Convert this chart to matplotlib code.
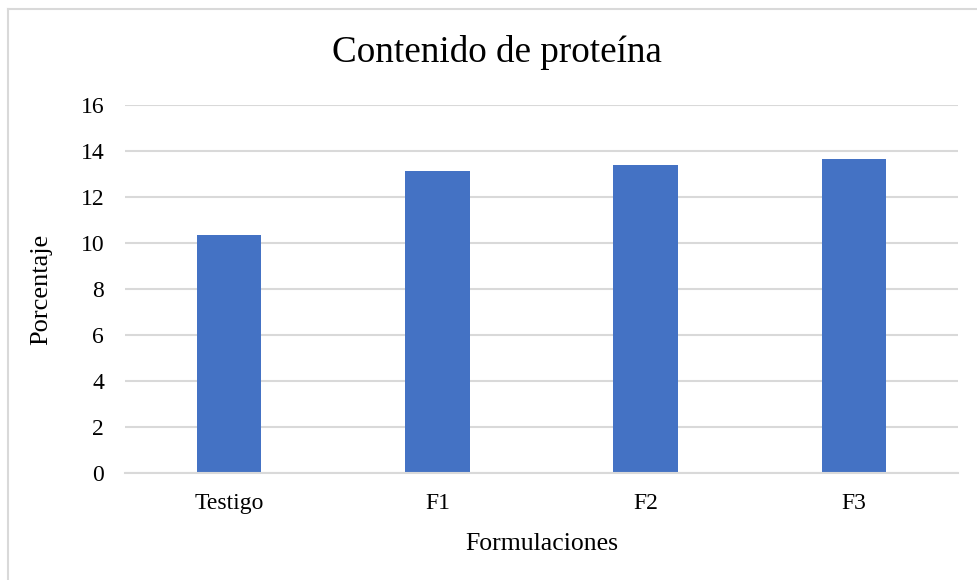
import matplotlib
matplotlib.use("Agg")
import matplotlib.pyplot as plt
from matplotlib.lines import Line2D

categories = ["Testigo", "F1", "F2", "F3"]
protein = [10.37, 13.13, 13.39, 13.64]
yticks = [0, 2, 4, 6, 8, 10, 12, 14, 16]

plt.rcParams["font.family"] = ["Liberation Serif", "DejaVu Serif"]

fig = plt.figure(figsize=(9.77, 5.8), dpi=100)
ax = fig.add_axes([0.128, 0.1841, 0.8526, 0.6347])

x = range(len(categories))
ax.bar(x, protein, width=0.31, color="#4472C4", zorder=3)

ax.set_xlim(-0.5, len(categories) - 0.5)
ax.set_ylim(0, 16)
ax.set_yticks(yticks)
ax.set_yticklabels([str(t) for t in yticks])
ax.set_xticks(list(x))
ax.set_xticklabels(categories)

ax.grid(axis="y", color="#d9d9d9", linewidth=1.5, zorder=0)
for side in ["top", "right", "left"]:
    ax.spines[side].set_visible(False)
ax.spines["bottom"].set_color("#d9d9d9")
ax.spines["bottom"].set_linewidth(1.5)
ax.spines["bottom"].set_zorder(4)

ax.tick_params(axis="both", length=0, labelsize=17, colors="black")
ax.tick_params(axis="y", pad=15)
ax.tick_params(axis="x", pad=14)

ax.set_xlabel("Formulaciones", fontsize=18.5, labelpad=14)
ax.set_ylabel("Porcentaje", fontsize=19, labelpad=20)

fig.text(0.5 + 0.009, 1 - 52 / 580, "Contenido de proteína", ha="center", va="center",
         fontsize=26.7)

# chart-area frame (top and left edges)
fig.add_artist(Line2D([7.5 / 977, 1.0], [1 - 8.5 / 580, 1 - 8.5 / 580],
                      transform=fig.transFigure, color="#d9d9d9", linewidth=1.5))
fig.add_artist(Line2D([7.5 / 977, 7.5 / 977], [0.0, 1 - 8.5 / 580],
                      transform=fig.transFigure, color="#d9d9d9", linewidth=1.5))

fig.savefig("out.png", dpi=100)
